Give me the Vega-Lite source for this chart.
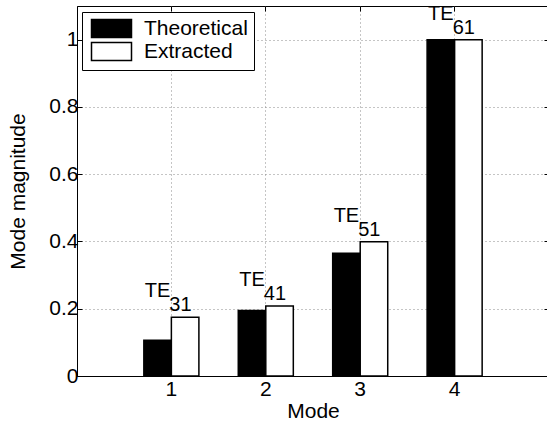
{
  "$schema": "https://vega.github.io/schema/vega-lite/v6.json",
  "width": 472,
  "height": 370,
  "autosize": "none",
  "padding": {"left": 77, "top": 6, "right": 0, "bottom": 46},
  "background": "white",
  "config": {
    "font": "Liberation Sans",
    "view": {"stroke": "black", "strokeWidth": 1},
    "axis": {
      "labelFont": "Liberation Sans",
      "titleFont": "Liberation Sans",
      "labelFontSize": 21,
      "titleFontSize": 21,
      "titleFontWeight": "normal",
      "labelColor": "black",
      "titleColor": "black",
      "domainColor": "black",
      "tickColor": "black",
      "gridColor": "#8a8a8a",
      "gridDash": [1, 3],
      "gridOpacity": 1
    }
  },
  "data": {
    "values": [
      {"mode": 1, "series": "Theoretical", "value": 0.106, "te": "31"},
      {"mode": 1, "series": "Extracted", "value": 0.175, "te": "31"},
      {"mode": 2, "series": "Theoretical", "value": 0.195, "te": "41"},
      {"mode": 2, "series": "Extracted", "value": 0.208, "te": "41"},
      {"mode": 3, "series": "Theoretical", "value": 0.365, "te": "51"},
      {"mode": 3, "series": "Extracted", "value": 0.399, "te": "51"},
      {"mode": 4, "series": "Theoretical", "value": 1.0, "te": "61"},
      {"mode": 4, "series": "Extracted", "value": 1.0, "te": "61"}
    ]
  },
  "layer": [
    {
      "mark": {"type": "bar", "stroke": "black", "strokeWidth": 1.5},
      "encoding": {
        "x": {
          "field": "mode",
          "type": "ordinal",
          "scale": {"paddingInner": 0.417, "paddingOuter": 0.708},
          "axis": {
            "orient": "bottom",
            "title": "Mode",
            "labelAngle": 0,
            "grid": true,
            "bandPosition": 0.5,
            "tickSize": -5,
            "labelPadding": 7,
            "titlePadding": 1
          }
        },
        "xOffset": {"field": "series", "type": "nominal", "sort": ["Theoretical", "Extracted"]},
        "y": {
          "field": "value",
          "type": "quantitative",
          "scale": {"domain": [0, 1.1], "nice": false, "zero": true},
          "axis": {
            "values": [0, 0.2, 0.4, 0.6, 0.8, 1],
            "format": "~g",
            "title": "Mode magnitude",
            "grid": true,
            "tickSize": -5,
            "labelPadding": 4,
            "titlePadding": 20
          }
        },
        "fill": {
          "field": "series",
          "type": "nominal",
          "scale": {"domain": ["Theoretical", "Extracted"], "range": ["black", "white"]},
          "legend": {
            "orient": "none",
            "legendX": 5,
            "legendY": 6,
            "title": null,
            "symbolType": "M-2.222,-1L2.222,-1L2.222,1L-2.222,1Z",
            "symbolSize": 324,
            "symbolOffset": 13,
            "symbolStrokeColor": "black",
            "symbolStrokeWidth": 1.5,
            "symbolOpacity": 1,
            "labelFont": "Liberation Sans",
            "labelFontSize": 21,
            "labelColor": "black",
            "labelOffset": 22,
            "strokeColor": "black",
            "fillColor": "white",
            "padding": 6,
            "rowPadding": -3
          }
        }
      }
    },
    {
      "mark": {"type": "text", "align": "right", "baseline": "alphabetic", "dx": -1, "dy": -20, "fontSize": 20, "font": "Liberation Sans", "color": "black"},
      "encoding": {
        "x": {"field": "mode", "type": "ordinal", "axis": null},
        "y": {"aggregate": "max", "field": "value", "type": "quantitative", "axis": null},
        "text": {"value": "TE"}
      }
    },
    {
      "mark": {"type": "text", "align": "left", "baseline": "alphabetic", "dx": -2, "dy": -6, "fontSize": 20, "font": "Liberation Sans", "color": "black"},
      "encoding": {
        "x": {"field": "mode", "type": "ordinal", "axis": null},
        "y": {"aggregate": "max", "field": "value", "type": "quantitative", "axis": null},
        "text": {"field": "te", "type": "nominal"}
      }
    },
    {
      "mark": {"type": "text", "text": ""},
      "encoding": {
        "x": {
          "field": "mode",
          "type": "ordinal",
          "axis": {"orient": "top", "labels": false, "title": null, "domain": false, "grid": false, "tickSize": -5, "bandPosition": 0.5}
        },
        "y": {
          "field": "value",
          "type": "quantitative",
          "axis": {"orient": "right", "labels": false, "title": null, "domain": false, "grid": false, "tickSize": -5, "values": [0, 0.2, 0.4, 0.6, 0.8, 1]}
        }
      }
    }
  ],
  "resolve": {"axis": {"x": "independent", "y": "independent"}}
}
